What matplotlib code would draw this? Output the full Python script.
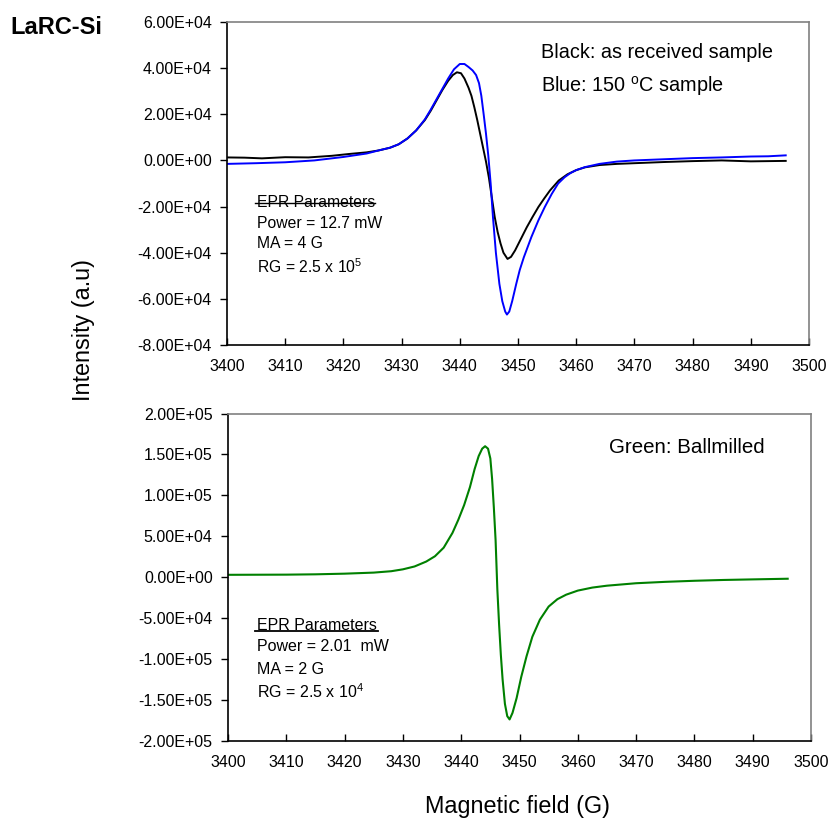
import matplotlib
matplotlib.use("Agg")
import matplotlib.pyplot as plt
from matplotlib.ticker import FuncFormatter
from matplotlib.lines import Line2D

plt.rcParams['font.family'] = ['Liberation Sans', 'DejaVu Sans']
plt.rcParams['mathtext.fontset'] = 'custom'
plt.rcParams['mathtext.rm'] = 'Liberation Sans'
plt.rcParams['mathtext.it'] = 'Liberation Sans:italic'
plt.rcParams['mathtext.bf'] = 'Liberation Sans:bold'

# ---- data ----
black_x = [3400, 3403, 3406, 3410, 3414, 3418, 3421, 3424, 3426, 3428, 3429.5, 3431, 3432.5,
           3434, 3435, 3436, 3437, 3438, 3438.8, 3439.5, 3440.2, 3440.8, 3441.5, 3442, 3442.5,
           3443, 3443.5, 3444, 3444.5, 3445, 3445.5, 3446, 3446.5, 3447, 3447.5, 3448.2,
           3448.8, 3449.5, 3450.5, 3451.5, 3452.5, 3453.5, 3454.5, 3455.5, 3457, 3458.5, 3460,
           3461.5, 3464, 3467, 3470, 3475, 3480, 3485, 3490, 3496]
black_y = [1300, 1200, 900, 1400, 1300, 2000, 2800, 3500, 4300, 5500, 7000, 9500, 13000,
           17500, 21500, 26000, 30500, 34500, 37000, 38200, 37800, 35500, 31500, 28000, 23000,
           17500, 11500, 5500, -500, -7500, -16000, -24500, -31000, -36000, -40000, -42700,
           -41800, -39000, -34000, -29000, -24500, -20200, -16500, -13000, -8700, -6000, -4200,
           -3000, -2000, -1500, -1200, -700, -300, 0, -400, -200]

blue_x = [3400, 3405, 3410, 3415, 3420, 3424, 3426, 3428, 3429.5, 3431, 3432.5, 3434, 3435,
          3436, 3437, 3438, 3439, 3440, 3440.8, 3441.5, 3442.2, 3442.8, 3443.3, 3443.7, 3444.1,
          3444.5, 3444.9, 3445.3, 3445.7, 3446.2, 3446.8, 3447.3, 3447.8, 3448.1, 3448.5,
          3449, 3449.7, 3450.3, 3451, 3452.3, 3453.5, 3454.6, 3455.8, 3456.9, 3458, 3459,
          3460, 3461.5, 3464, 3467, 3470, 3475, 3480, 3485, 3490, 3493, 3496]
blue_y = [-1500, -1200, -800, 0, 1500, 3000, 4300, 5500, 7000, 9500, 13000, 17800, 22000,
          26500, 31000, 35500, 39500, 41800, 41800, 40500, 39000, 37000, 33500, 28000, 20000,
          11600, 2000, -10000, -24600, -40000, -53500, -61000, -65500, -66800, -65500,
          -61000, -53500, -47500, -42000, -33200, -26000, -20200, -14500, -10000, -7300, -5500,
          -4200, -2900, -1500, -500, 0, 500, 1000, 1300, 1700, 1800, 2200]

green_x = [3400, 3405, 3410, 3415, 3420, 3425, 3428, 3430, 3432, 3434, 3435.5, 3437, 3438.5,
           3439.5, 3440.5, 3441.5, 3442.3, 3443, 3443.6, 3444.1, 3444.6, 3445, 3445.3, 3445.6,
           3445.9, 3446.2, 3446.5, 3446.8, 3447.1, 3447.5, 3447.9, 3448.3, 3448.8, 3449.5,
           3450.3, 3451.2, 3452.2, 3453.5, 3455, 3456.5, 3458, 3460, 3462.5, 3465, 3470, 3475,
           3480, 3485, 3490, 3496]
green_y = [2800, 2900, 3000, 3400, 4200, 5500, 7200, 9500, 13000, 19000, 25500, 36000, 54000,
           70000, 88000, 110000, 132000, 148000, 157000, 160000, 157000, 145000, 120000, 85000,
           45000, -15000, -58000, -95000, -125000, -155000, -170000, -174000, -166000, -148000,
           -122000, -97000, -73000, -52000, -36000, -27000, -21500, -16500, -12800, -10500,
           -7500, -5800, -4500, -3500, -2800, -2000]

top_yticks = [-8e4, -6e4, -4e4, -2e4, 0, 2e4, 4e4, 6e4]
bot_yticks = [-2e5, -1.5e5, -1e5, -5e4, 0, 5e4, 1e5, 1.5e5, 2e5]
xticks = list(range(3400, 3501, 10))

W, H = 830, 823
fig = plt.figure(figsize=(W / 100, H / 100), dpi=100)

def fmt(v, pos):
    return f"{v:.2E}"

def style(ax, yticks):
    ax.set_xlim(3400, 3500)
    ax.set_ylim(yticks[0], yticks[-1])
    ax.set_xticks(xticks)
    ax.set_yticks(yticks)
    ax.yaxis.set_major_formatter(FuncFormatter(fmt))
    for s in ['top', 'right']:
        ax.spines[s].set_color('#808080')
        ax.spines[s].set_linewidth(1.2)
    for s in ['left', 'bottom']:
        ax.spines[s].set_color('black')
        ax.spines[s].set_linewidth(1.2)
    ax.tick_params(axis='x', direction='in', length=5, width=1, pad=10, labelsize=11.5)
    ax.tick_params(axis='y', direction='out', length=5, width=1, pad=6, labelsize=11.5)

ax1 = fig.add_axes([227 / W, 1 - 345 / H, 582 / W, 323 / H])
ax1.plot(black_x, black_y, color='black', lw=1.4)
ax1.plot(blue_x, blue_y, color='#0000FF', lw=1.4)
style(ax1, top_yticks)

ax1.text(0.5395, 0.907, 'Black: as received sample', transform=ax1.transAxes,
         fontsize=14.3, va='center', ha='left')
ax1.text(0.5395, 0.802, r'Blue: 150 $^{\mathrm{o}}$C sample', transform=ax1.transAxes,
         fontsize=14.3, va='center', ha='left')
epr_top = ['EPR Parameters', 'Power = 12.7 mW', 'MA = 4 G', r'RG = 2.5 x 10$^{5}$']
for t, yy in zip(epr_top, [0.4412, 0.3762, 0.3134, 0.2422]):
    ax1.text(0.0515, yy, t, transform=ax1.transAxes, fontsize=11.3, va='center', ha='left')
ax1.add_line(Line2D([0.0481, 0.2543], [0.4406, 0.4406], transform=ax1.transAxes,
                    color='black', lw=1.0))

ax2 = fig.add_axes([228 / W, 1 - 740.7 / H, 583 / W, 327.2 / H])
ax2.plot(green_x, green_y, color='#008000', lw=1.5)
style(ax2, bot_yticks)

ax2.text(0.6535, 0.8976, 'Green: Ballmilled', transform=ax2.transAxes,
         fontsize=14.8, va='center', ha='left')
epr_bot = ['EPR Parameters', 'Power = 2.01  mW', 'MA = 2 G', r'RG = 2.5 x 10$^{4}$']
for t, yy in zip(epr_bot, [0.3536, 0.2864, 0.2191, 0.1488]):
    ax2.text(0.0497, yy, t, transform=ax2.transAxes, fontsize=11.5, va='center', ha='left')
ax2.add_line(Line2D([0.0463, 0.2573], [0.3362, 0.3362], transform=ax2.transAxes,
                    color='black', lw=1.3))

fig.text(10 / W, 1 - 28 / H, 'LaRC-Si', fontsize=17, fontweight='bold', va='center', ha='left')
fig.text(83 / W, 1 - 330 / H, 'Intensity (a.u)', fontsize=16.8, rotation=90, va='center', ha='center')
fig.text(517 / W, 1 - 807 / H, 'Magnetic field (G)', fontsize=16.8, va='center', ha='center')

fig.savefig('out.png', dpi=100)
